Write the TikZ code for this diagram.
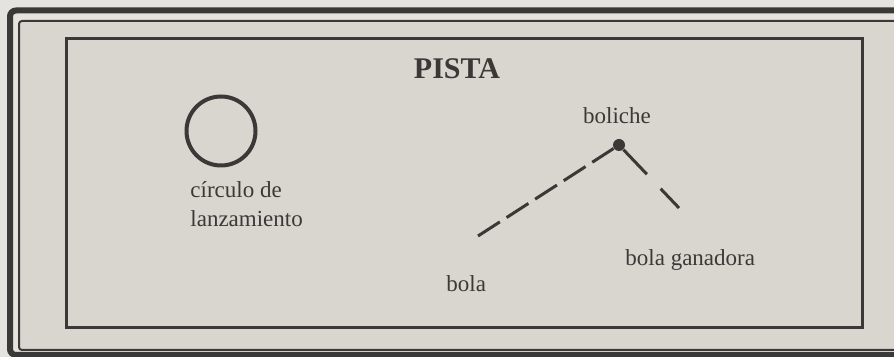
\documentclass[tikz,border=0pt]{standalone}
\usepackage{fontspec}
\setmainfont{Liberation Serif}
\usetikzlibrary{positioning}
\definecolor{paper}{RGB}{216,214,207}
\definecolor{paperlight}{RGB}{228,227,221}
\definecolor{ink}{RGB}{58,57,55}

\begin{document}
\begin{tikzpicture}[
    x=0.5pt, y=-0.5pt, font=\fontsize{11.5}{14.5}\selectfont,
    border/.style={draw=ink},
    txt/.style={text=ink, inner sep=0pt},
    trail/.style={draw=ink, line width=1.5pt},
    ball/.style={circle, fill=ink, inner sep=0pt, minimum size=6pt}]

  % ---- sheet and frames ----
  \useasboundingbox (0,0) rectangle (894,357);
  \clip (0,0) rectangle (894,357);
  \fill[paperlight] (0,0) rectangle (894,357);
  \fill[paper] (19,21) rectangle (920,350);
  \draw[border, line width=3pt, rounded corners=3pt] (10,10.5) rectangle (920,355);
  \draw[border, line width=1pt, rounded corners=1.5pt] (19,21) rectangle (920,350);
  \draw[border, line width=1.5pt] (66.5,38.5) rectangle (862.5,327.5);

  % ---- title ----
  \node[txt, anchor=base, font=\fontsize{15}{18}\selectfont\bfseries] (title) at (457,79) {PISTA};

  % ---- throwing circle ----
  \node[circle, draw=ink, line width=2pt, minimum size=34.5pt, inner sep=0pt] (circ) at (221,131) {};
  \node[txt, anchor=base west, align=left] (tcirc) at (190,227) {círculo de\\lanzamiento};

  % ---- jack and the two balls ----
  \node[ball] (jack) at (619,145) {};
  \coordinate (bolaend) at (478,236);
  \coordinate (ganend) at (679,208);
  \draw[trail, dash pattern=on 13pt off 4pt] (bolaend) -- (jack);
  \draw[trail, dash pattern=on 17pt off 10pt] (jack) -- (ganend);

  \node[txt, anchor=base] (tjack) at (617,124) {boliche};
  \node[txt, anchor=base west] (tbola) at (446,292) {bola};
  \node[txt, anchor=base west] (tgan) at (625,266) {bola ganadora};
\end{tikzpicture}
\end{document}
